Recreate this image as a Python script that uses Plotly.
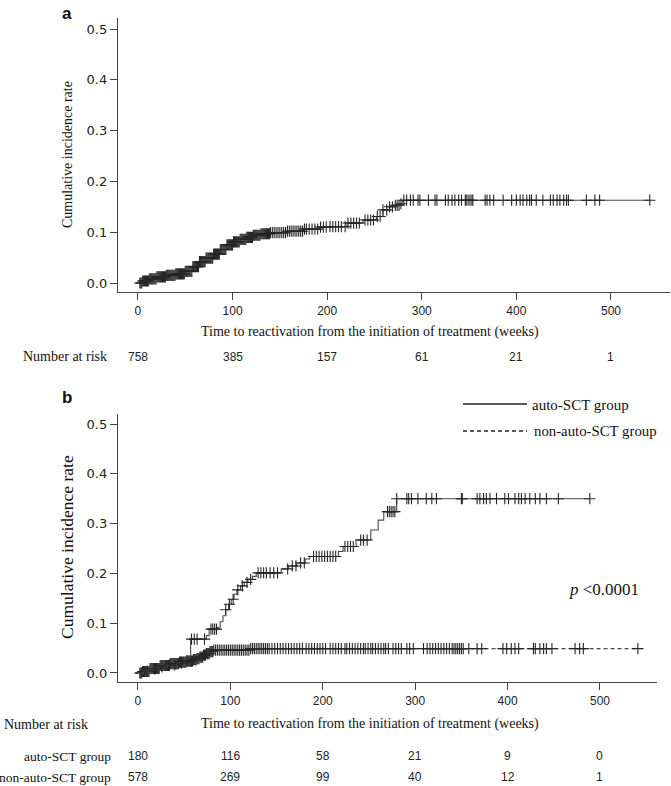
import numpy as np
import plotly.graph_objects as go

# ---------------- data: panel a (all patients) ----------------
time_a = [0, 5, 12, 20, 30, 40, 50, 58, 65, 72, 80, 87, 94, 101, 108, 115, 122, 130, 140,
          157, 175, 192, 203, 221, 238, 252, 259, 266, 272, 277, 280]
cif_a = [0, 0.004, 0.008, 0.012, 0.015, 0.018, 0.023, 0.032, 0.042, 0.049, 0.057, 0.066,
         0.075, 0.081, 0.086, 0.090, 0.094, 0.097, 0.099, 0.102, 0.106, 0.110, 0.111,
         0.118, 0.124, 0.131, 0.144, 0.150, 0.153, 0.156, 0.163]
end_a = 541
censor_a = [2, 3, 4, 5, 6, 7, 8, 9, 10, 11, 12, 13, 14, 15, 16, 17, 18, 19, 20, 21, 22, 23,
            24, 25, 26, 27, 28, 29, 30, 31, 32, 33, 34, 35, 36, 37, 38, 39, 40, 41, 42, 43,
            44, 45, 46, 47, 48, 49, 50, 51, 52, 53, 54, 55, 56, 57, 58, 59, 60, 61, 62, 63,
            64, 65, 66, 67, 68, 69, 70, 71, 72, 73, 74, 75, 76, 77, 78, 79, 80, 81, 82, 83,
            84, 85, 86, 87, 88, 89, 90, 91, 92, 93, 94, 95, 96, 97, 98, 99, 100, 101, 102,
            103, 104, 105, 106, 107, 108, 109, 110, 111, 112, 113, 114, 115, 116, 117, 118,
            119, 120, 121, 122, 123, 124, 125, 126, 127, 128, 129, 130, 131, 132, 133, 134,
            135, 136, 137, 138, 139, 140, 142, 144, 146, 148, 150, 152, 154, 156, 158, 160,
            162, 164, 166, 168, 170, 172, 174, 176, 178, 181, 184, 187, 190, 193, 196, 199,
            203, 206, 209, 212, 215, 219, 222, 225, 228, 231, 234, 240, 243, 246, 249, 253,
            256, 259, 263, 266, 269, 272, 274, 276, 278,
            281, 284, 288, 291, 296, 298, 307, 314, 316, 325, 328, 332, 335, 339, 342, 346,
            347, 349, 351, 353, 354, 367, 369, 372, 376, 386, 395, 400, 404, 407, 411, 414,
            416, 421, 428, 436, 439, 443, 446, 450, 453, 455, 474, 483, 488, 541]
risk_times = [0, 100, 200, 300, 400, 500]
risk_all = [758, 385, 157, 61, 21, 1]

# ---------------- data: panel b (by group) ----------------
time_auto = [0, 6, 14, 22, 32, 42, 50, 54, 57, 74, 77, 86, 89, 92, 95, 98, 101, 104, 107,
             111, 115, 119, 124, 128, 155, 163, 172, 181, 186, 217, 222, 236, 252, 260, 266, 280]
cif_auto = [0, 0.004, 0.008, 0.012, 0.016, 0.020, 0.025, 0.033, 0.068, 0.075, 0.088, 0.092,
            0.103, 0.115, 0.127, 0.138, 0.148, 0.158, 0.167, 0.175, 0.182, 0.188, 0.194,
            0.201, 0.209, 0.215, 0.221, 0.229, 0.234, 0.244, 0.254, 0.267, 0.287, 0.307,
            0.324, 0.350]
end_auto = 489
censor_auto = [10, 18, 26, 34, 40, 47, 53, 58, 61, 64, 72, 79, 81, 83, 85, 95, 99, 103, 108,
               113, 118, 122, 130, 133, 136, 139, 143, 147, 151, 162, 167, 171, 176, 180, 190,
               193, 196, 199, 202, 205, 208, 211, 214, 224, 227, 230, 233, 241, 244, 248, 270,
               272, 274, 276, 278, 280, 291, 293, 296, 303, 312, 318, 323, 350, 351, 367, 370,
               374, 377, 381, 388, 397, 401, 408, 412, 415, 419, 424, 430, 435, 442, 455, 489]

time_non = [0, 5, 13, 24, 35, 45, 53, 60, 64, 67, 71, 74, 78, 82, 121]
cif_non = [0, 0.003, 0.009, 0.015, 0.019, 0.022, 0.024, 0.027, 0.029, 0.032, 0.036, 0.039,
           0.043, 0.046, 0.049]
end_non = 541
censor_non = [2, 3, 4, 5, 6, 7, 8, 9, 10, 11, 12, 13, 14, 15, 16, 17, 18, 19, 20, 21, 22, 23,
              24, 25, 26, 27, 28, 29, 30, 31, 32, 33, 34, 35, 36, 37, 38, 39, 40, 41, 42, 43,
              44, 45, 46, 47, 48, 49, 50, 51, 52, 53, 54, 55, 56, 57, 58, 59, 60, 61, 62, 63,
              64, 65, 66, 67, 68, 69, 70, 71, 72, 73, 74, 75, 76, 77, 78, 79, 80, 81, 82, 84,
              86, 88, 90, 92, 94, 96, 98, 100, 102, 104, 106, 108, 110, 112, 114, 116, 118,
              120, 122, 124, 126, 128, 130, 132, 134, 136, 138, 140, 142, 145, 148, 151, 154,
              157, 160, 163, 166, 169, 172, 175, 178, 182, 185, 188, 191, 194, 197, 200, 203,
              208, 211, 214, 217, 220, 224, 226, 229, 232, 235, 238, 241, 244, 246, 249, 252,
              254, 257, 260, 263, 266, 268, 271, 276, 279, 282, 285, 291, 294, 298, 309, 313,
              316, 319, 322, 325, 328, 331, 334, 337, 340, 342, 344, 346, 348, 350, 352, 358,
              367, 372, 395, 399, 404, 408, 412, 428, 430, 435, 439, 442, 448, 473, 478, 482,
              541]
risk_auto = [180, 116, 58, 21, 9, 0]
risk_non = [578, 269, 99, 40, 12, 1]

# ---------------- helpers ----------------
W, H = 671, 786
def px(x):
    return x / W
def py(y):
    return 1 - y / H

def step_value(times, vals, t):
    idx = np.searchsorted(np.array(times), np.array(t), side="right") - 1
    return np.array(vals)[idx]

SERIF = "Liberation Serif, Times New Roman, serif"
SANS = "Liberation Sans, Arial, sans-serif"
WIDE = "DejaVu Sans, Liberation Sans, sans-serif"
LINE_COL = "#4a4a4a"
MARK_COL = "#262626"

fig = go.Figure()

def add_curve(times, vals, end, censor, xa, ya, dash):
    xs = list(times) + [end]
    ys = list(vals) + [vals[-1]]
    fig.add_trace(go.Scatter(x=xs, y=ys, mode="lines", line_shape="hv",
                             line=dict(color=LINE_COL, width=1.1, dash=dash),
                             xaxis=xa, yaxis=ya, showlegend=False, hoverinfo="skip"))
    cy = step_value(times, vals, censor)
    fig.add_trace(go.Scatter(x=censor, y=cy, mode="markers",
                             marker=dict(symbol="cross-thin-open", size=8, color=MARK_COL,
                                         line=dict(color=MARK_COL, width=1.1)),
                             xaxis=xa, yaxis=ya, showlegend=False, hoverinfo="skip"))

add_curve(time_a, cif_a, end_a, censor_a, "x", "y", "solid")
add_curve(time_non, cif_non, end_non, censor_non, "x2", "y2", "4px,3px")
add_curve(time_auto, cif_auto, end_auto, censor_auto, "x2", "y2", "solid")

axis_common = dict(showgrid=False, zeroline=False, showline=True, linecolor="#444",
                   linewidth=1.3, ticks="outside", ticklen=7, tickwidth=1.3,
                   tickcolor="#444")
xfont = dict(family=SANS, size=12, color="#222")
yfont = dict(family=WIDE, size=13, color="#222")

yticks = [0, 0.1, 0.2, 0.3, 0.4, 0.5]
yticktext = ["0.0", "0.1", "0.2", "0.3", "0.4", "0.5"]

fig.update_layout(
    width=W, height=H, margin=dict(l=0, r=0, t=0, b=0),
    paper_bgcolor="white", plot_bgcolor="white", showlegend=False,
    xaxis=dict(domain=[px(118), px(670)], range=[-21.1, 562.4], tickvals=risk_times,
               anchor="y", tickfont=xfont, **axis_common),
    yaxis=dict(domain=[py(292), py(18)], range=[-0.0177, 0.5217], tickvals=yticks,
               ticktext=yticktext, anchor="x", tickfont=yfont, **axis_common),
    xaxis2=dict(domain=[px(118), px(657)], range=[-21.6, 561.7], tickvals=risk_times,
                anchor="y2", tickfont=xfont, **axis_common),
    yaxis2=dict(domain=[py(682), py(414)], range=[-0.0181, 0.5201], tickvals=yticks,
                ticktext=yticktext, anchor="x2", tickfont=yfont, **axis_common),
)

ann = []
def text(x, y, s, size, family=SERIF, xanchor="center", xref="paper", angle=0, color="#111"):
    ann.append(dict(x=x if xref != "paper" else px(x), y=py(y), xref=xref, yref="paper",
                    text=s, showarrow=False, xanchor=xanchor, yanchor="middle",
                    textangle=angle, font=dict(family=family, size=size, color=color)))

# panel labels
text(66.5, 13, "<b>a</b>", 17, family=SANS)
text(66.5, 397, "<b>b</b>", 17, family=SANS)
# y titles
text(67, 155, "Cumulative incidence rate", 14, angle=-90)
text(67, 547, "Cumulative incidence rate", 17.5, angle=-90)
# x titles
xtitle = "Time to reactivation from the initiation of treatment (weeks)"
text(369.5, 331.5, xtitle, 14)
text(369.5, 724, xtitle, 14)
# number at risk, panel a
text(20.7, 356.7, "Number at risk", 14, xanchor="left")
for t, n in zip(risk_times, risk_all):
    text(t, 356.7, str(n), 12, family=SANS, xref="x", color="#222")
# number at risk, panel b
text(2, 724, "Number at risk", 14, xanchor="left")
text(113, 756, "auto-SCT group", 13.5, xanchor="right")
text(113, 777, "non-auto-SCT group", 13.5, xanchor="right")
for t, n in zip(risk_times, risk_auto):
    text(t, 756, str(n), 12, family=SANS, xref="x2", color="#222")
for t, n in zip(risk_times, risk_non):
    text(t, 777, str(n), 12, family=SANS, xref="x2", color="#222")
# legend
text(530, 405, "auto-SCT group", 15, xanchor="left")
text(531.5, 431, "non-auto-SCT group", 14.8, xanchor="left")
# p value
text(566.5, 589, "<i>p</i> &lt;0.0001", 17, xanchor="left")

fig.update_layout(annotations=ann)

fig.add_shape(type="line", xref="paper", yref="paper", x0=px(463), x1=px(527),
              y0=py(404), y1=py(404), line=dict(color="#222", width=1.3))
fig.add_shape(type="line", xref="paper", yref="paper", x0=px(463), x1=px(527),
              y0=py(431), y1=py(431), line=dict(color="#222", width=1.3, dash="4px,3px"))

fig.write_html("out.html", config={"displayModeBar": False},
               post_script="document.body.style.margin='0px';document.body.style.padding='0px';")
